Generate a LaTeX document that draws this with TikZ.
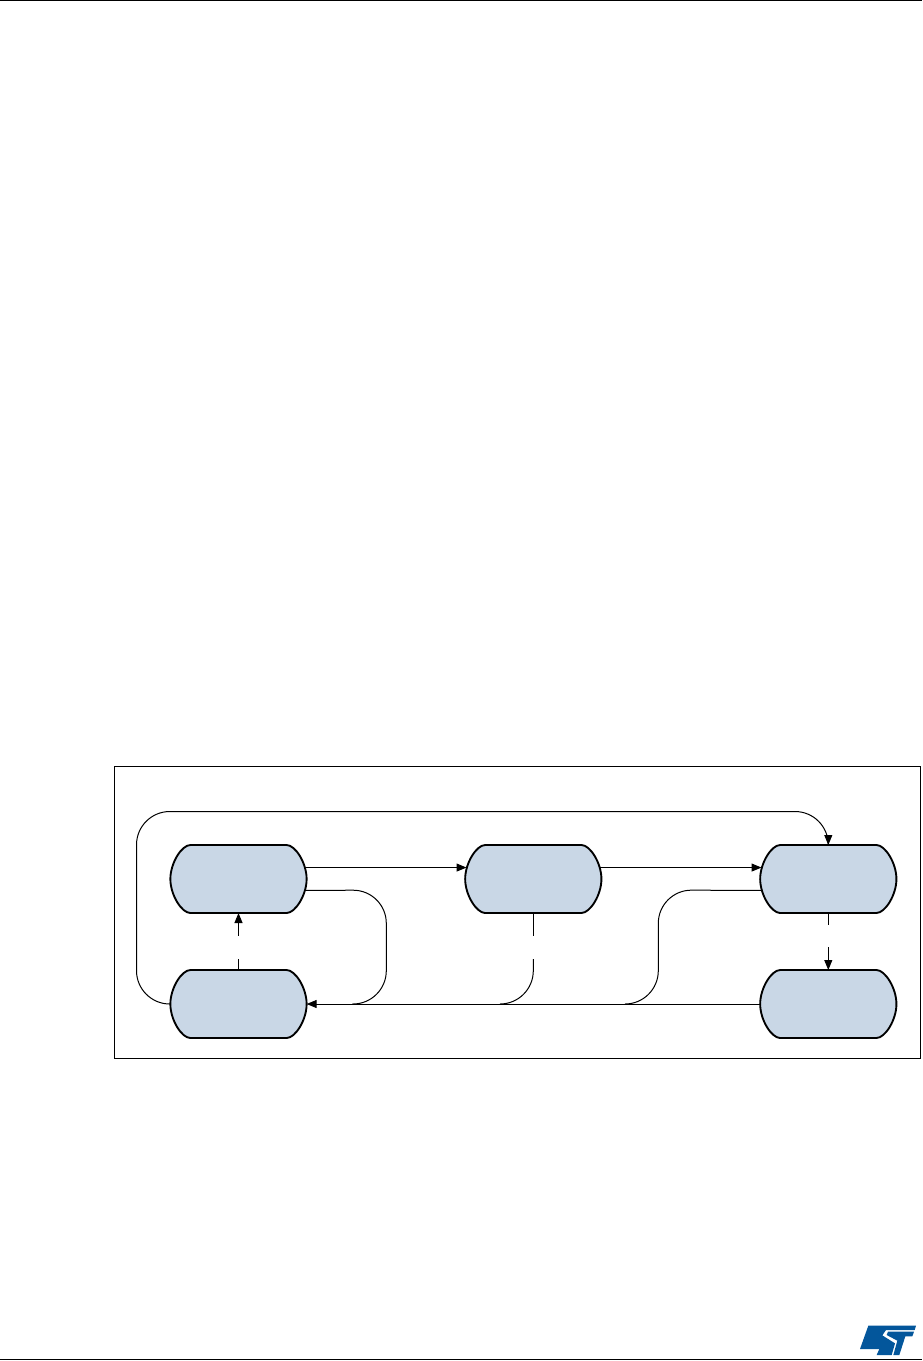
\documentclass[tikz,border=0pt]{standalone}
\usetikzlibrary{arrows.meta}
\definecolor{boxfill}{HTML}{C9D7E6}
\definecolor{stblue}{HTML}{03569B}
\newdimen\capL \newdimen\capR \newdimen\capT \newdimen\capB \newdimen\capM
\makeatletter
\def\capget{\pgfextractx{\capL}{\southwest}\pgfextracty{\capB}{\southwest}\pgfextractx{\capR}{\northeast}\pgfextracty{\capT}{\northeast}\capM=0.5\capT\advance\capM by 0.5\capB}
\def\cappt#1#2#3#4{\pgfpointadd{\pgfqpoint{#1}{#3}}{\pgfqpoint{#2}{#4}}}
\pgfdeclareshape{capsule}{
  \inheritsavedanchors[from=rectangle]
  \inheritanchorborder[from=rectangle]
  \inheritanchor[from=rectangle]{center}
  \inheritanchor[from=rectangle]{north}
  \inheritanchor[from=rectangle]{south}
  \inheritanchor[from=rectangle]{east}
  \inheritanchor[from=rectangle]{west}
  \anchor{upperleft}{\capget\pgfpointadd{\pgfqpoint{\capL}{\capM}}{\pgfqpoint{1pt}{8.6pt}}}
  \anchor{lowerleft}{\capget\pgfpointadd{\pgfqpoint{\capL}{\capM}}{\pgfqpoint{1pt}{-8.6pt}}}
  \anchor{upperright}{\capget\pgfpointadd{\pgfqpoint{\capR}{\capM}}{\pgfqpoint{-1pt}{8.6pt}}}
  \anchor{lowerright}{\capget\pgfpointadd{\pgfqpoint{\capR}{\capM}}{\pgfqpoint{-1pt}{-8.6pt}}}
  \backgroundpath{
    \capget
    \pgfpathmoveto{\cappt{\capL}{15pt}{\capT}{0pt}}
    \pgfpathlineto{\cappt{\capR}{-15pt}{\capT}{0pt}}
    \pgfpathcurveto{\cappt{\capR}{-8.5pt}{\capT}{0pt}}{\cappt{\capR}{0pt}{\capM}{12pt}}{\cappt{\capR}{0pt}{\capM}{0pt}}
    \pgfpathcurveto{\cappt{\capR}{0pt}{\capM}{-12pt}}{\cappt{\capR}{-8.5pt}{\capB}{0pt}}{\cappt{\capR}{-15pt}{\capB}{0pt}}
    \pgfpathlineto{\cappt{\capL}{15pt}{\capB}{0pt}}
    \pgfpathcurveto{\cappt{\capL}{8.5pt}{\capB}{0pt}}{\cappt{\capL}{0pt}{\capM}{-12pt}}{\cappt{\capL}{0pt}{\capM}{0pt}}
    \pgfpathcurveto{\cappt{\capL}{0pt}{\capM}{12pt}}{\cappt{\capL}{8.5pt}{\capT}{0pt}}{\cappt{\capL}{15pt}{\capT}{0pt}}
    \pgfpathclose
  }
}
\makeatother
\tikzset{
  x=0.75pt,y=-0.75pt,
  statebox/.style={shape=capsule,draw=black,fill=boxfill,line width=1.4pt,minimum width=102.2pt,minimum height=51pt,inner sep=0pt,outer sep=0pt},
  link/.style={draw=black,line width=0.75pt,rounded corners=25pt},
  linkarrow/.style={link,-{Triangle[length=7.5pt,width=6pt]}},
  rule/.style={draw=black,line width=1.1pt},
}
\begin{document}
\begin{tikzpicture}
\useasboundingbox (0,0) rectangle (922,1361);
\draw[rule] (0,0.5) coordinate (tl) -- (922,0.5) coordinate (tr);
\draw[rule] (0,1359.5) coordinate (bl) -- (922,1359.5) coordinate (br);
\node[draw=black,line width=0.75pt,minimum width=604.6pt,minimum height=218.8pt,inner sep=0pt,anchor=north west] (frame) at (114.3,766.3) {};
\node[statebox] (a) at (238.5,879) {};
\node[statebox] (b) at (533.3,879) {};
\node[statebox] (c) at (828.3,879) {};
\node[statebox] (d) at (238.5,1004) {};
\node[statebox] (e) at (828.3,1004) {};
\coordinate (k1) at (136.5,1004);
\coordinate (k2) at (136.5,811.5);
\coordinate (k3) at (828.3,811.5);
\coordinate (k4) at (386.3,890);
\coordinate (k5) at (386.3,1004);
\coordinate (k6) at (533.3,1004);
\coordinate (k7) at (658.3,890);
\coordinate (k8) at (658.3,1004);
\coordinate (g1) at (533.3,935.7);
\coordinate (g2) at (533.3,959);
\coordinate (g3) at (238.5,959);
\coordinate (g4) at (238.5,935.7);
\coordinate (g5) at (828.3,924.5);
\coordinate (g6) at (828.3,947);
\coordinate (j1) at (352,1004);
\coordinate (j2) at (499.9,1004);
\coordinate (j3) at (624.9,1004);
\draw[linkarrow] (d.west) -- (k1) -- (k2) -- (k3) -- (c.north);
\draw[linkarrow] (a.upperright) -- (b.upperleft);
\draw[linkarrow] (b.upperright) -- (c.upperleft);
\draw[link] (a.lowerright) -- (k4) -- (k5) -- (j1);
\draw[link] (b.south) -- (g1);
\draw[link] (g2) -- (k6) -- (j2);
\draw[link] (c.lowerleft) -- (k7) -- (k8) -- (j3);
\draw[linkarrow] (e.west) -- (d.east);
\draw[link] (d.north) -- (g3);
\draw[linkarrow] (g4) -- (a.south);
\draw[link] (c.south) -- (g5);
\draw[linkarrow] (g6) -- (e.north);
% ST logo
\begin{scope}[shift={(800,1300)},x=0.25pt,y=-0.25pt]
\fill[stblue] (205,77) -- (348,77) -- (344,90) -- (258,90) -- (247,106) -- (285,130) -- (275,165) -- (230,165) -- (238,147) -- (180,147) -- cycle;
\fill[stblue] (264,95) -- (342,95) -- (337,109) -- (316,109) -- (298,165) -- (280,165) -- (292,122) -- (260,105) -- cycle;
\end{scope}
\end{tikzpicture}
\end{document}
